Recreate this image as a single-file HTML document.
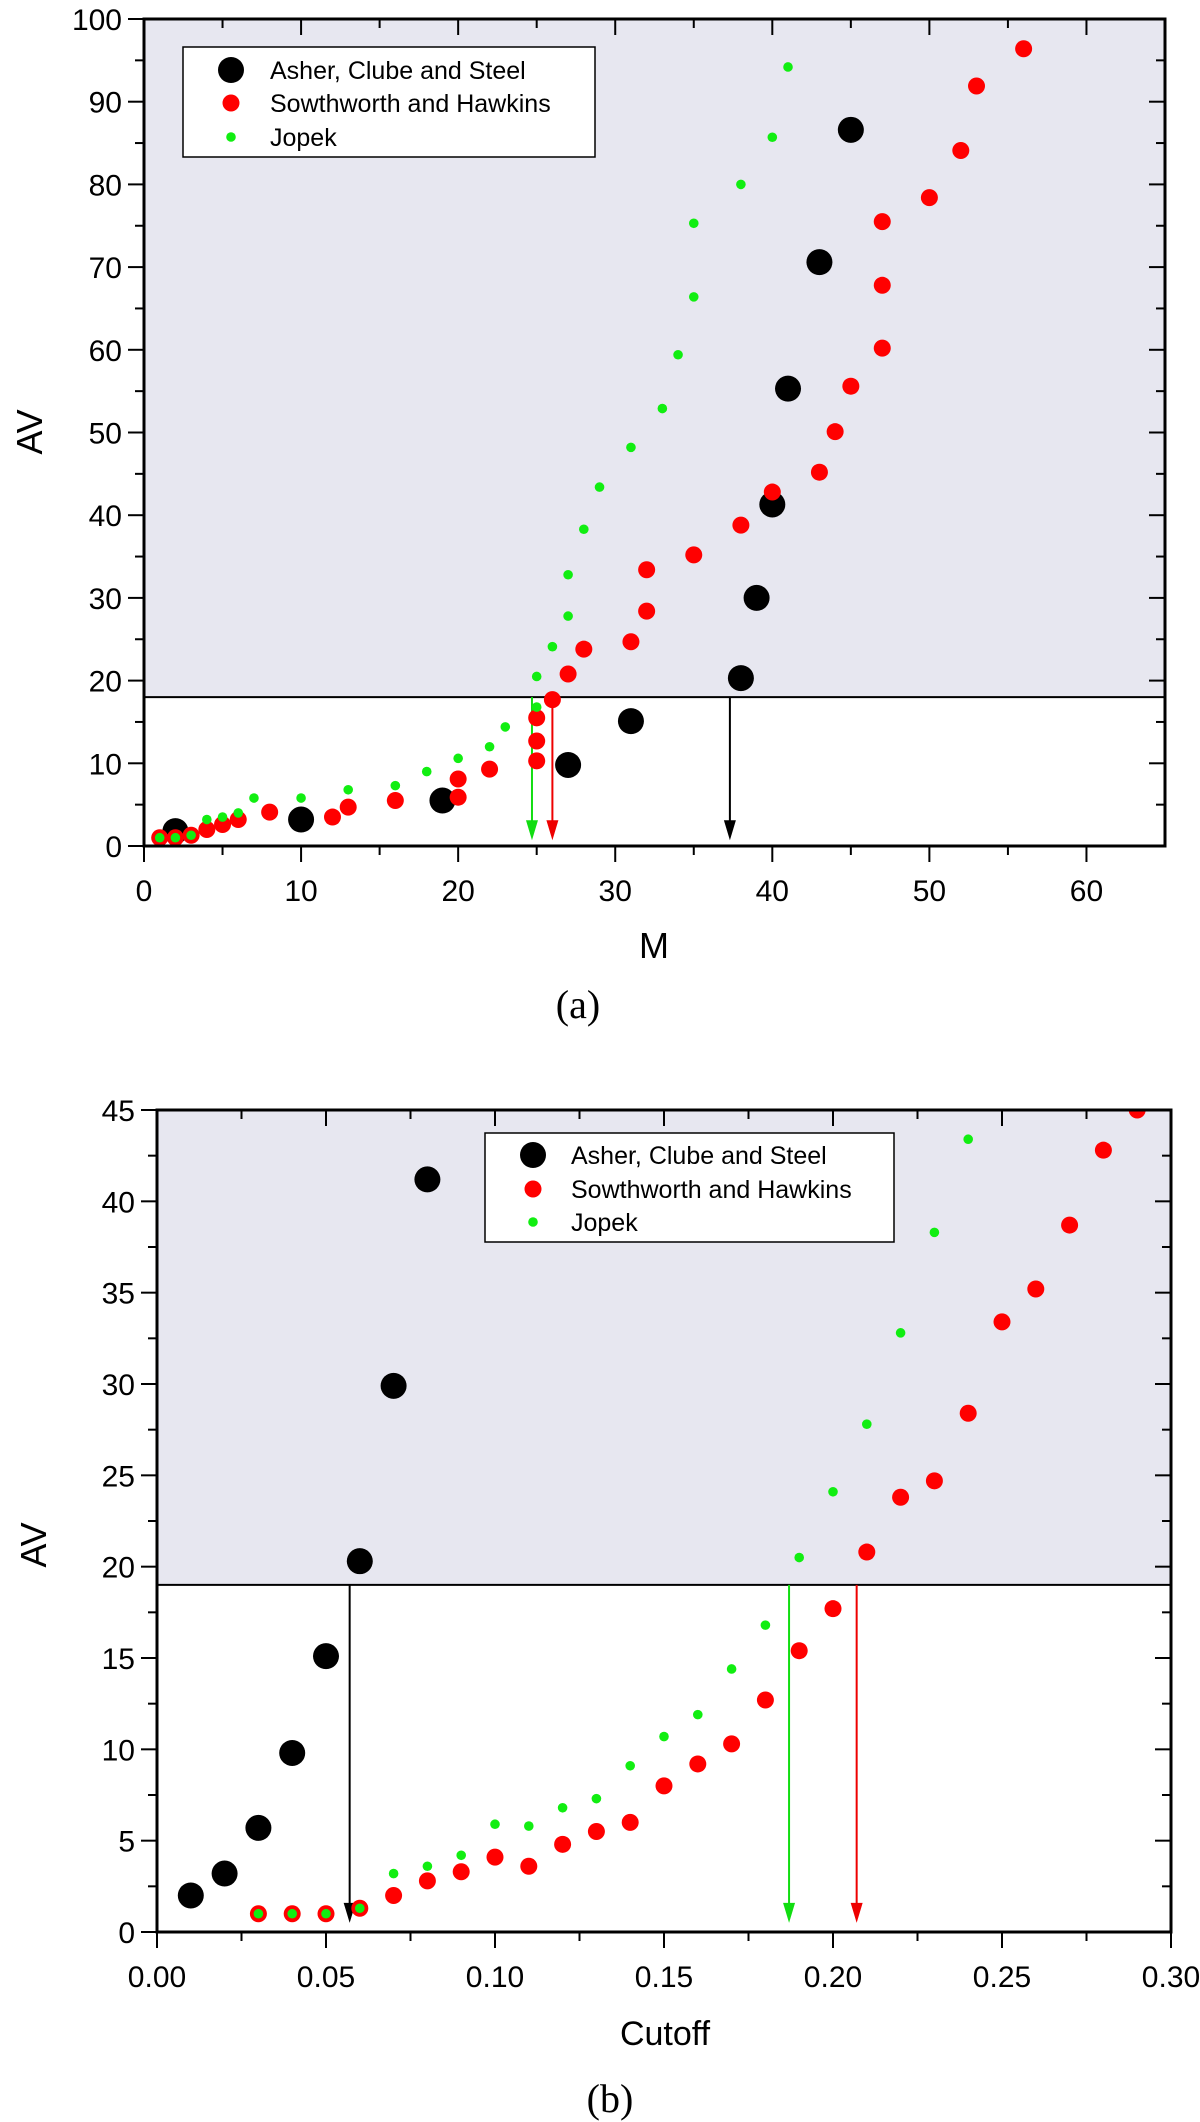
<!DOCTYPE html>
<html><head><meta charset="utf-8"><style>
html,body{margin:0;padding:0;background:#fff;}
svg{display:block;font-family:"Liberation Sans",sans-serif;}
</style></head><body>
<svg id="fig" width="1200" height="2122" viewBox="0 0 1200 2122" xmlns="http://www.w3.org/2000/svg"></svg>
<script>
// ---- Panel (a) data ----
const aBlackX=[2,10,19,27,31,38,39,40,41,43,45];
const aBlackY=[1.8,3.2,5.5,9.8,15.1,20.3,30,41.3,55.3,70.6,86.6];
const aRedX=[1,2,3,4,5,6,8,12,13,16,20,20,22,25,25,25,26,27,28,31,32,32,35,38,40,43,44,45,47,47,47,50,52,53,56];
const aRedY=[1,1,1.3,2,2.6,3.2,4.1,3.5,4.7,5.5,5.9,8.1,9.3,10.3,12.7,15.5,17.7,20.8,23.8,24.7,28.4,33.4,35.2,38.8,42.8,45.2,50.1,55.6,60.2,67.8,75.5,78.4,84.1,91.9,96.4];
const aGreenX=[1,2,3,4,5,6,7,10,13,16,18,20,22,23,25,25,26,27,27,28,29,31,33,34,35,35,38,40,41];
const aGreenY=[1,1,1.3,3.2,3.5,4,5.8,5.8,6.8,7.3,9,10.6,12,14.4,16.8,20.5,24.1,27.8,32.8,38.3,43.4,48.2,52.9,59.4,66.4,75.3,80,85.7,94.2];
const aThreshold=[18];
const aArrowX=[24.7,26.0,37.3];
const aXTicks=[0,10,20,30,40,50,60];
const aYTicks=[0,10,20,30,40,50,60,70,80,90,100];
// ---- Panel (b) data ----
const bBlackX=[0.01,0.02,0.03,0.04,0.05,0.06,0.07,0.08];
const bBlackY=[2,3.2,5.7,9.8,15.1,20.3,29.9,41.2];
const bRedX=[0.03,0.04,0.05,0.06,0.07,0.08,0.09,0.10,0.11,0.12,0.13,0.14,0.15,0.16,0.17,0.18,0.19,0.20,0.21,0.22,0.23,0.24,0.25,0.26,0.27,0.28,0.29];
const bRedY=[1,1,1,1.3,2,2.8,3.3,4.1,3.6,4.8,5.5,6,8,9.2,10.3,12.7,15.4,17.7,20.8,23.8,24.7,28.4,33.4,35.2,38.7,42.8,45];
const bGreenX=[0.03,0.04,0.05,0.06,0.07,0.08,0.09,0.10,0.11,0.12,0.13,0.14,0.15,0.16,0.17,0.18,0.19,0.20,0.21,0.22,0.23,0.24];
const bGreenY=[1,1,1,1.3,3.2,3.6,4.2,5.9,5.8,6.8,7.3,9.1,10.7,11.9,14.4,16.8,20.5,24.1,27.8,32.8,38.3,43.4];
const bThreshold=[19];
const bArrowX=[0.057,0.187,0.207];
const bXTicks=[0,0.05,0.10,0.15,0.20,0.25,0.30];
const bXTickLabels=["0.00","0.05","0.10","0.15","0.20","0.25","0.30"];
const bYTicks=[0,5,10,15,20,25,30,35,40,45];

const NS="http://www.w3.org/2000/svg";
const svg=document.getElementById('fig');
function mk(tag,attrs,parent){const e=document.createElementNS(NS,tag);for(const k in attrs)e.setAttribute(k,attrs[k]);(parent||svg).appendChild(e);return e;}

function panel(o){
  const g=mk('g',{});
  
  
  const sx=v=>o.x0+(v-o.xmin)/(o.xmax-o.xmin)*(o.x1-o.x0);
  const sy=v=>o.y1-(v-o.ymin)/(o.ymax-o.ymin)*(o.y1-o.y0);
  const cid='clip-'+o.name;
  const cp=mk('clipPath',{id:cid},g);
  mk('rect',{x:o.x0,y:o.y0,width:o.x1-o.x0,height:o.y1-o.y0},cp);
  const ty=sy(o.threshold[0]);
  const shade=mk('rect',{x:o.x0,y:o.y0,width:o.x1-o.x0,height:ty-o.y0,fill:'#e7e7f0'},g);
  
  
  const tl=mk('line',{x1:o.x0,x2:o.x1,y1:ty,y2:ty,stroke:'#000','stroke-width':2},g);
  
  
  o.arrowX.forEach((v,i)=>{
    const x=sx(v),col=o.arrowCol[i],tip=sy(o.arrowTip);
    const ag=mk('g',{},g);
    
    
    mk('line',{x1:x,x2:x,y1:ty,y2:tip-14,stroke:col,'stroke-width':2},ag);
    mk('polygon',{points:`${x-6},${tip-20} ${x+6},${tip-20} ${x},${tip}`,fill:col},ag);
  });
  const dg=mk('g',{'clip-path':`url(#${cid})`},g);
  const series=[[o.bx,o.by,'#000',13,'black'],[o.rx,o.ry,'#f00',8.5,'red'],[o.gx,o.gy,'#11ee11',4.8,'green']];
  series.forEach(s=>{
    const sg=mk('g',{},dg);
    
    
    s[0].forEach((xv,i)=>{
      const c=mk('circle',{cx:sx(xv),cy:sy(s[1][i]),r:s[3],fill:s[2]},sg);
      
      
    });
  });
  const fr=mk('rect',{x:o.x0,y:o.y0,width:o.x1-o.x0,height:o.y1-o.y0,fill:'none',stroke:'#000','stroke-width':3},g);
  
  
  const xg=mk('g',{},g);
  
  
  o.xTicks.forEach((v,i)=>{
    const x=sx(v);
    mk('line',{x1:x,x2:x,y1:o.y1,y2:o.y1+16,stroke:'#000','stroke-width':2},xg);
    mk('line',{x1:x,x2:x,y1:o.y0,y2:o.y0+16,stroke:'#000','stroke-width':2},xg);
    const t=mk('text',{x:x,y:o.y1+55,'text-anchor':'middle','font-size':30},xg);
    t.textContent=o.xLabels[i];
    
    
    if(i<o.xTicks.length-1){
      const xm=sx((v+o.xTicks[i+1])/2);
      mk('line',{x1:xm,x2:xm,y1:o.y1,y2:o.y1+9,stroke:'#000','stroke-width':2},xg);
      mk('line',{x1:xm,x2:xm,y1:o.y0,y2:o.y0+9,stroke:'#000','stroke-width':2},xg);
    }
  });
  const yg=mk('g',{},g);
  
  
  o.yTicks.forEach((v,i)=>{
    const y=sy(v);
    mk('line',{x1:o.x0-16,x2:o.x0,y1:y,y2:y,stroke:'#000','stroke-width':2},yg);
    mk('line',{x1:o.x1-16,x2:o.x1,y1:y,y2:y,stroke:'#000','stroke-width':2},yg);
    const t=mk('text',{x:o.x0-22,y:y+11,'text-anchor':'end','font-size':30},yg);
    t.textContent=String(v);
    
    
    if(i<o.yTicks.length-1){
      const ym=sy((v+o.yTicks[i+1])/2);
      mk('line',{x1:o.x0-9,x2:o.x0,y1:ym,y2:ym,stroke:'#000','stroke-width':2},yg);
      mk('line',{x1:o.x1-9,x2:o.x1,y1:ym,y2:ym,stroke:'#000','stroke-width':2},yg);
    }
  });
  const xt=mk('text',{x:o.xTitle[0],y:o.xTitle[1],'text-anchor':'middle','font-size':o.xTitleSize},g);
  xt.textContent=o.xTitleText;
  
  
  const yt=mk('text',{x:0,y:0,'text-anchor':'middle','font-size':36,transform:`translate(${o.yTitle[0]},${o.yTitle[1]}) rotate(-90)`},g);
  yt.textContent='AV';
  
  
  const cap=mk('text',{x:o.cap[0],y:o.cap[1],'text-anchor':'middle','font-size':40,'font-family':'Liberation Serif, serif'},g);
  cap.textContent=o.capText;
  
  
  const L=o.legend;
  const lg=mk('g',{},g);
  
  
  mk('rect',{x:L.x,y:L.y,width:L.w,height:L.h,fill:'#fff',stroke:'#000','stroke-width':1.5},lg);
  const ent=[['Asher, Clube and Steel','#000',13],['Sowthworth and Hawkins','#f00',8.5],['Jopek','#11ee11',4.8]];
  ent.forEach((e,i)=>{
    const y=L.rows[i];
    const eg=mk('g',{},lg);
    
    
    mk('circle',{cx:L.mx,cy:y,r:e[2],fill:e[1]},eg);
    const t=mk('text',{x:L.tx,y:y+9,'font-size':25},eg);
    t.textContent=e[0];
  });
}

panel({name:'panel-a',x0:144,x1:1165,y0:19,y1:846,xmin:0,xmax:65,ymin:0,ymax:100,
  bx:aBlackX,by:aBlackY,rx:aRedX,ry:aRedY,gx:aGreenX,gy:aGreenY,threshold:aThreshold,
  arrowX:aArrowX,arrowCol:['#11dd11','#e00','#000'],arrowNames:['jopek','sowthworth','asher'],arrowTip:0.7,
  xTicks:aXTicks,xLabels:aXTicks.map(String),yTicks:aYTicks,
  xTitle:[654,958],xTitleText:'M',xTitleSize:36,yTitle:[42,432],cap:[578,1018],capText:'(a)',
  legend:{x:183,y:47,w:412,h:110,rows:[70,103,137],mx:231,tx:270}});

panel({name:'panel-b',x0:157,x1:1171,y0:1110,y1:1932,xmin:0,xmax:0.30,ymin:0,ymax:45,
  bx:bBlackX,by:bBlackY,rx:bRedX,ry:bRedY,gx:bGreenX,gy:bGreenY,threshold:bThreshold,
  arrowX:bArrowX,arrowCol:['#000','#11dd11','#e00'],arrowNames:['asher','jopek','sowthworth'],arrowTip:0.5,
  xTicks:bXTicks,xLabels:bXTickLabels,yTicks:bYTicks,
  xTitle:[665,2045],xTitleText:'Cutoff',xTitleSize:34,yTitle:[46,1545],cap:[610,2112],capText:'(b)',
  legend:{x:485,y:1133,w:409,h:109,rows:[1155,1189,1222],mx:533,tx:571}});
</script>
</body></html>
